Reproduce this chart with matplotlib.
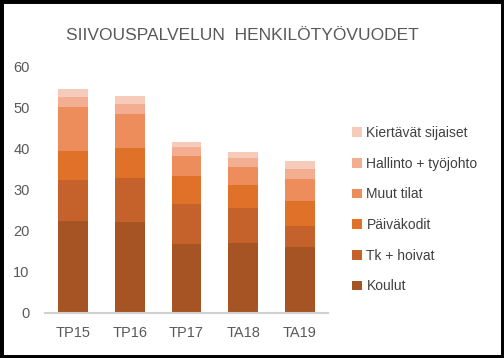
import matplotlib
matplotlib.use("Agg")
from matplotlib import pyplot as plt
import numpy as np

plt.rcParams['font.family'] = ['Liberation Sans', 'DejaVu Sans']

# data (henkilötyövuodet)
years = ['TP15', 'TP16', 'TP17', 'TA18', 'TA19']
koulut = [22.4, 22.1, 16.7, 16.9, 16.1]
tk_hoivat = [10.0, 10.7, 9.7, 8.5, 5.1]
paivakodit = [6.9, 7.3, 6.8, 5.7, 5.9]
muut_tilat = [10.8, 8.3, 4.9, 4.3, 5.4]
hallinto = [2.5, 2.5, 2.4, 2.4, 2.4]
kiertavat = [1.9, 1.9, 1.1, 1.3, 2.1]

series = [
    ('Koulut', koulut, '#A65424'),
    ('Tk + hoivat', tk_hoivat, '#C5622B'),
    ('Päiväkodit', paivakodit, '#DF7228'),
    ('Muut tilat', muut_tilat, '#EE8D5C'),
    ('Hallinto + työjohto', hallinto, '#F3AE92'),
    ('Kiertävät sijaiset', kiertavat, '#F6CBBA'),
]

fig = plt.figure(figsize=(5.04, 3.58), dpi=100)
ax = fig.add_axes([0.089, 0.127, 0.562, 0.687])

x = np.arange(len(years))
bottom = np.zeros(len(years))
for name, vals, col in series:
    ax.bar(x, vals, 0.52, bottom=bottom, color=col, label=name)
    bottom += np.array(vals)

ax.set_xlim(-0.5, 4.5)
ax.set_ylim(0, 60)
ax.set_yticks(range(0, 61, 10))
ax.set_xticks(x)
ax.set_xticklabels(years)
ax.tick_params(axis='both', length=0, labelsize=10.5, colors='#595959')
ax.tick_params(axis='x', pad=10)
ax.tick_params(axis='y', pad=11)
for s in ['top', 'right', 'left']:
    ax.spines[s].set_visible(False)
ax.spines['bottom'].set_color('#D0D0D0')
ax.spines['bottom'].set_linewidth(1.5)

fig.text(0.48, 0.902, 'SIIVOUSPALVELUN  HENKILÖTYÖVUODET', ha='center', va='center',
         fontsize=12.5, color='#595959')

handles, labels = ax.get_legend_handles_labels()
leg = fig.legend(handles[::-1], labels[::-1], loc='center left',
                 bbox_to_anchor=(0.698, 0.414), frameon=False, fontsize=10,
                 handlelength=0.7, handleheight=0.7, handletextpad=0.35,
                 labelspacing=1.2, borderpad=0, borderaxespad=0,
                 labelcolor='#404040')

# black frame around the image
fig.patches.append(plt.Rectangle((0, 0), 1, 1, transform=fig.transFigure,
                                 fill=False, edgecolor='black', linewidth=5))

fig.savefig('out.png', dpi=100)
